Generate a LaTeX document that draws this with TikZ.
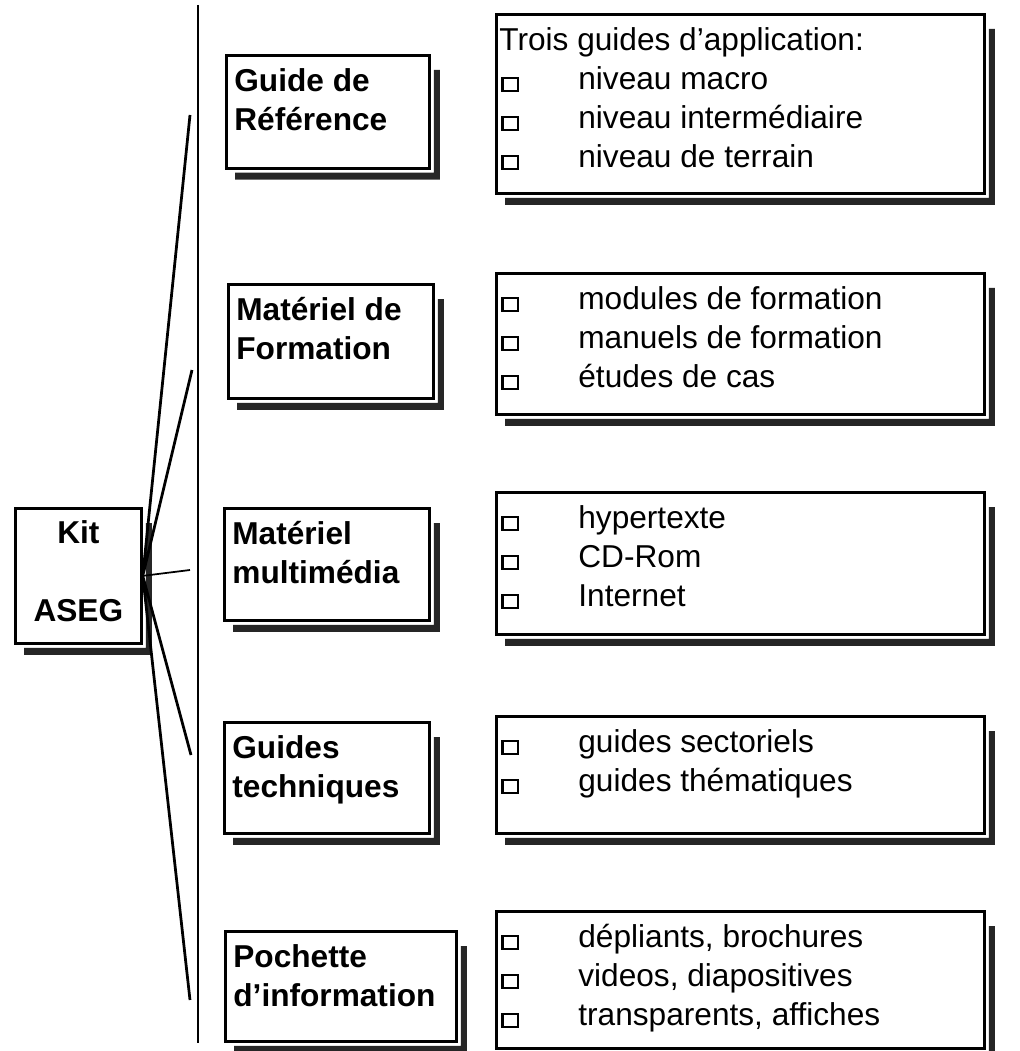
\documentclass[tikz,border=0pt]{standalone}
\usepackage{fontspec}
\setmainfont{Liberation Sans}
\usetikzlibrary{positioning}

\newcommand\bul{{\setlength\fboxsep{0pt}\setlength\fboxrule{0.45mm}\fbox{\rule{0pt}{2.1mm}\hspace{2.7mm}}}}
\newcommand\itm[1]{\hspace*{-0.6mm}\makebox[15.4mm][l]{\bul}#1}
\newcommand\boxbody[3]{\parbox[c][#2][t]{#1}{\raggedright\rule{0pt}{7.3mm}#3}}

\begin{document}
\begin{tikzpicture}[x=0.2mm, y=-0.2mm, line width=0.55mm,
    box/.style={draw, anchor=north west, inner xsep=1.6mm, inner ysep=0pt,
        font=\fontsize{18}{22.2}\selectfont},
    midbox/.style={box, font=\fontsize{18}{22.2}\selectfont\bfseries},
    shadowfill/.style={fill=black!85}]
    \useasboundingbox (0,0) rectangle (1019,1051);

    \node[box] (kit) at (14,507) {\parbox[c][27mm][t]{22mm}{\centering\bfseries\rule{0pt}{7mm}Kit\\[7.8mm]ASEG}};

    \node[midbox] (ref) at (225,54) {\boxbody{37.4mm}{22.6mm}{Guide de\\Référence}};
    \node[midbox] (form) at (227,283) {\boxbody{37.8mm}{22.8mm}{Matériel de\\Formation}};
    \node[midbox] (multi) at (223,507) {\boxbody{37.8mm}{22.4mm}{Matériel\\multimédia}};
    \node[midbox] (tech) at (223,721) {\boxbody{37.8mm}{22.2mm}{Guides\\techniques}};
    \node[midbox] (info) at (224,930) {\boxbody{43mm}{22mm}{Pochette\\d’information}};

    \node[box] (apps) at (495,13) {\boxbody{94.4mm}{35.8mm}{\hspace*{-1mm}Trois guides d'application:\\
        \itm{niveau macro}\\\itm{niveau intermédiaire}\\\itm{niveau de terrain}}};
    \node[box] (course) at (495,272) {\boxbody{94.4mm}{28.2mm}{\itm{modules de formation}\\
        \itm{manuels de formation}\\\itm{études de cas}}};
    \node[box] (media) at (495,491) {\boxbody{94.4mm}{28.4mm}{\itm{hypertexte}\\
        \itm{CD-Rom}\\\itm{Internet}}};
    \node[box] (guides) at (495,715) {\boxbody{94.4mm}{23.4mm}{\itm{guides sectoriels}\\
        \itm{guides thématiques}}};
    \node[box] (leaflets) at (495,910) {\boxbody{94.4mm}{27.4mm}{\itm{dépliants, brochures}\\
        \itm{videos, diapositives}\\\itm{transparents, affiches}}};

    \foreach \b in {kit,ref,form,multi,tech,info,apps,course,media,guides,leaflets}
        \fill[shadowfill] ([shift={(10,3)}]\b.south west) rectangle ([shift={(9,10)}]\b.south east)
            ([shift={(3,16)}]\b.north east) rectangle ([shift={(9,10)}]\b.south east);

    \coordinate (vtop) at (198,5);
    \coordinate (vbot) at (198,1043);
    \coordinate (e1) at (190,115);
    \coordinate (e2) at (192,370);
    \coordinate (e3) at (190,570);
    \coordinate (e4) at (191,755);
    \coordinate (e5) at (190,1000);

    \draw (vtop) -- (vbot);
    \draw
    (kit.east) -- (e1)
    (kit.east) -- (e2)
    (kit.east) -- (e4)
    (kit.east) -- (e5);
    \draw[line width=0.35mm] (kit.east) -- (e3);
\end{tikzpicture}
\end{document}
